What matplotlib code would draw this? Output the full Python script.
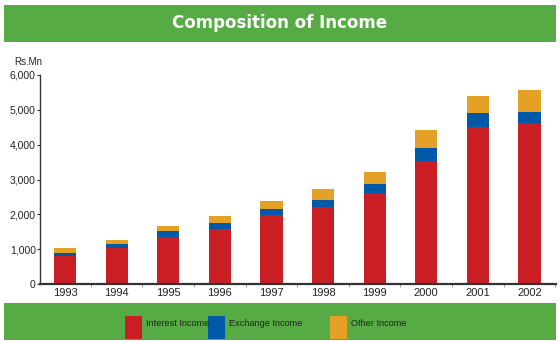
import numpy as np
import matplotlib.pyplot as plt
from matplotlib.patches import Rectangle
from matplotlib.ticker import FuncFormatter, MultipleLocator

years = ["1993", "1994", "1995", "1996", "1997", "1998", "1999", "2000", "2001", "2002"]
interest = [800, 1040, 1340, 1580, 1980, 2210, 2610, 3530, 4510, 4620]
exchange = [100, 95, 180, 170, 170, 200, 260, 375, 400, 320]
other = [145, 130, 145, 200, 240, 315, 345, 515, 490, 630]

series = ["Interest Income", "Exchange Income", "Other Income"]
colors = ["#C81E24", "#0058A8", "#E5A026"]
green = "#56AB44"
axis_col = "#333333"

plt.rcParams['font.family'] = ['Liberation Sans Narrow', 'Liberation Sans', 'DejaVu Sans']

fig = plt.figure(figsize=(5.6, 3.42), dpi=100)

# title and legend bands
fig.patches.append(Rectangle((4/560, 1 - 42/342), 552/560, 37/342, transform=fig.transFigure,
                             facecolor=green, edgecolor='none'))
fig.patches.append(Rectangle((4/560, 1 - 340/342), 552/560, 37/342, transform=fig.transFigure,
                             facecolor=green, edgecolor='none'))
fig.text(0.5, 1 - 23/342, "Composition of Income", color="white", fontsize=12,
         fontweight='bold', ha='center', va='center', family=['DejaVu Sans'])

ax = fig.add_axes([40/560, 58/342, 516/560, 209/342])
x = np.arange(len(years))
w = 0.43
bottom2 = np.array(interest) + np.array(exchange)
ax.bar(x, interest, w, color=colors[0], label=series[0])
ax.bar(x, exchange, w, bottom=interest, color=colors[1], label=series[1])
ax.bar(x, other, w, bottom=bottom2, color=colors[2], label=series[2])

ax.set_xlim(-0.485, 9.515)
ax.set_ylim(0, 6000)
ax.set_xticks(x)
ax.set_xticklabels(years)
ax.xaxis.set_minor_locator(MultipleLocator(1, offset=0.5))
ax.yaxis.set_major_locator(MultipleLocator(1000))
ax.yaxis.set_major_formatter(FuncFormatter(lambda v, p: f"{int(v):,}"))

for s in ["top", "right"]:
    ax.spines[s].set_visible(False)
ax.spines["left"].set_color(axis_col)
ax.spines["bottom"].set_color(axis_col)
ax.spines["left"].set_linewidth(1.0)
ax.spines["bottom"].set_linewidth(1.6)
ax.tick_params(axis='x', which='major', length=0, pad=3, labelsize=8, colors='#222222')
ax.tick_params(axis='x', which='minor', length=2, color='#888888')
ax.tick_params(axis='y', length=2, pad=1, labelsize=7.5, colors='#222222', color=axis_col)

fig.text(14/560, 1 - 62/342, "Rs.Mn", fontsize=7, color='#222222', va='center')

# legend in the bottom band
leg_x = [125, 208, 330]
for lx, col, name in zip(leg_x, colors, series):
    fig.patches.append(Rectangle((lx/560, 1 - 339/342), 17/560, 23/342,
                                 transform=fig.transFigure, facecolor=col, edgecolor='none'))
    fig.text((lx + 21)/560, 1 - 323/342, name, fontsize=6.6, color='#222222', va='center')

fig.savefig("out.png", dpi=100)
